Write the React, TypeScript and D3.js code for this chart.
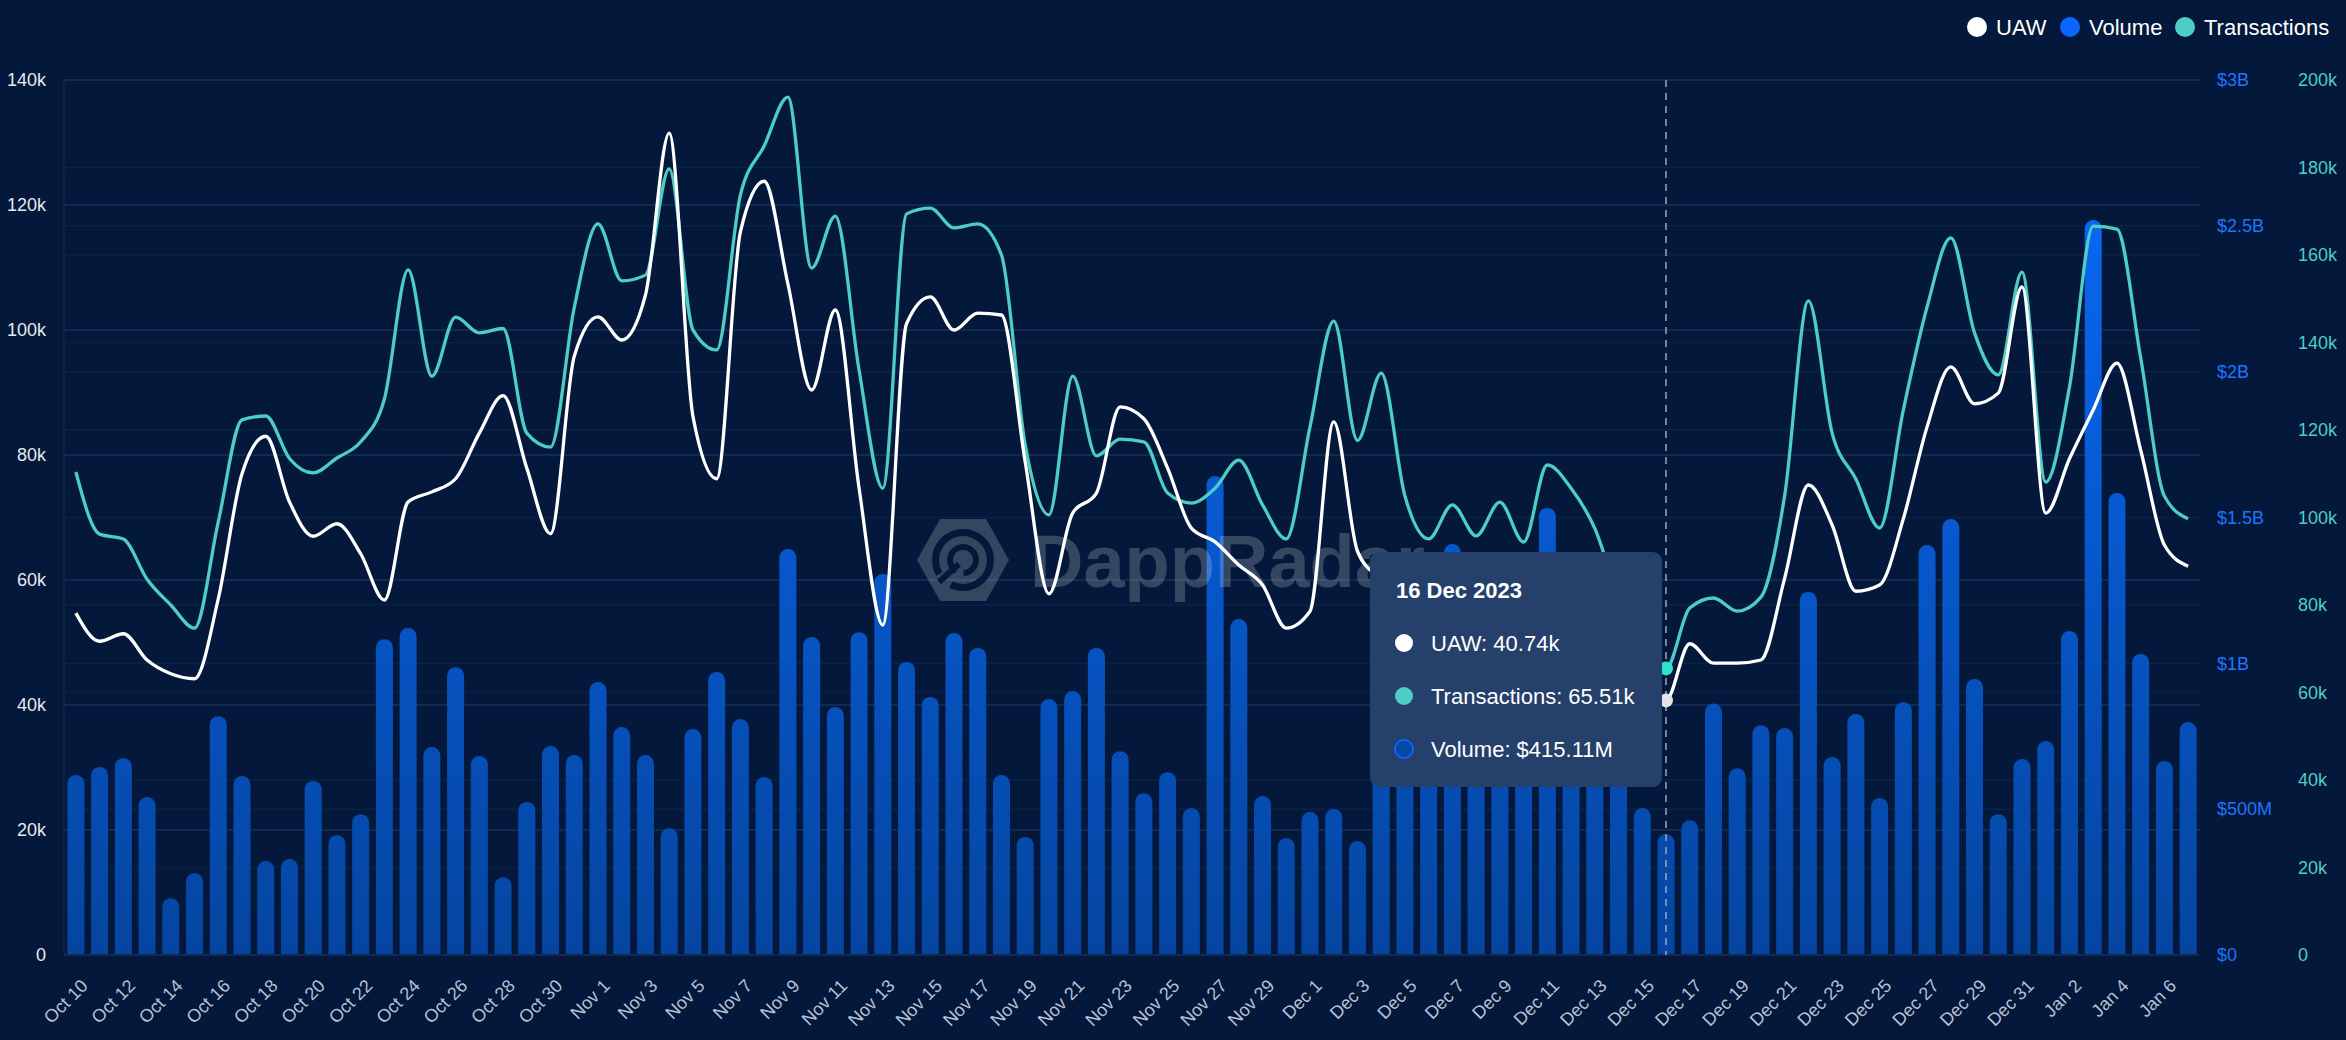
import React from "react";
import * as d3 from "d3";

// categories: one bar per day, Oct 10 2023 .. Jan 7 2024
const days = d3.timeDay.range(new Date(2023, 9, 10), new Date(2024, 0, 8));
const dayLabel = d3.timeFormat("%b %-d");
const tooltipDate = d3.timeFormat("%-d %b %Y");

// unique active wallets, thousands
const uaw = [
  54.7, 50.2, 51.4, 47.2, 45.0, 44.2, 57.0, 77.0, 83.0, 72.5, 67.0, 69.0, 64.2, 56.8, 72.5, 74.1, 76.2, 83.5, 89.5,
  77.9, 67.4, 95.8, 102.1, 98.4, 105.6, 131.5, 86.2, 76.2, 115.7, 123.8, 107.4, 90.4, 103.2, 74.7, 52.8, 101.0, 105.3,
  100.0, 102.7, 102.4, 78.9, 57.8, 70.7, 73.9, 87.7, 85.8, 77.9, 68.3, 66.1, 62.4, 59.2, 52.3, 55.0, 85.3, 64.6,
  60, 56, 52, 55, 52, 54, 51, 58, 56, 52, 47, 43, 40.74,
  49.8, 46.7, 46.7, 47.2, 60.3, 75.2, 68.8, 58.2, 59.2, 69.8, 84.5, 94.1, 88.2, 89.9, 106.9, 70.7, 79.4, 87.2, 94.7,
  80.8, 65.6, 62.2,
];

// transactions, thousands
const transactions = [
  110.4, 96.2, 95.1, 85.9, 80.0, 74.7, 99.0, 122.3, 123.2, 113.5, 110.2, 113.6, 117.3, 127.1, 156.6, 132.3, 145.8,
  142.2, 143.2, 119.3, 116.1, 148.0, 167.1, 154.1, 155.4, 179.7, 142.9, 138.3, 173.7, 184.9, 196.1, 157.0, 168.9,
  133.7, 106.7, 169.4, 170.7, 166.2, 167.1, 160.0, 116.6, 100.6, 132.3, 114.1, 117.9, 117.3, 105.6, 103.3, 106.7,
  113.1, 102.9, 95.1, 120.7, 144.9, 117.6, 133.0, 104.9, 95.1, 102.9, 95.8, 103.5, 94.4, 112.0, 106.7, 97.5, 82, 72,
  65.51, 79.3, 81.6, 78.6, 81.8, 105, 149.5, 119.3, 108.8, 97.6, 124.6, 148.1, 163.9, 142.2, 132.6, 156.1, 108.1,
  129.8, 166.6, 165.9, 136.5, 104.9, 99.7,
];

// volume, millions of USD
const volume = [
  617, 645, 675, 542, 195, 281, 819, 614, 322, 329, 597, 411, 483, 1083, 1121, 713, 987, 682, 267, 525, 717, 686,
  936, 782, 686, 435, 775, 970, 809, 610, 1392, 1090, 850, 1107, 1306, 1005, 885, 1104, 1053, 617, 405, 878, 905,
  1053, 699, 555, 627, 504, 1642, 1152, 545, 401, 490, 501, 391, 1000, 1150, 900, 1409, 1050, 1200, 950, 1533, 1100,
  1000, 750, 504, 415.11, 462, 862, 640, 788, 778, 1245, 679, 826, 538, 867, 1406, 1495, 946, 483, 672, 734, 1111,
  2520, 1584, 1032, 665, 799,
];

const uawTicks = [0, 20, 40, 60, 80, 100, 120, 140];
const uawTickLabels = ["0", "20k", "40k", "60k", "80k", "100k", "120k", "140k"];
const volumeTicks = [0, 500, 1000, 1500, 2000, 2500, 3000];
const volumeTickLabels = ["$0", "$500M", "$1B", "$1.5B", "$2B", "$2.5B", "$3B"];
const txTicks = [0, 20, 40, 60, 80, 100, 120, 140, 160, 180, 200];
const txTickLabels = ["0", "20k", "40k", "60k", "80k", "100k", "120k", "140k", "160k", "180k", "200k"];

const legend = [
  { name: "UAW", color: "#ffffff" },
  { name: "Volume", color: "#0a66ff" },
  { name: "Transactions", color: "#4ecdc4" },
];

const HOVER = 67;

const W = 2346;
const H = 1040;
const left = 64;
const right = 2200;
const top = 80;
const bottom = 955;
const FONT = "'Liberation Sans', Arial, Helvetica, sans-serif";
const BG = "#03183a";
const TEAL = "#4ecdc4";

const barPath = (x0: number, w: number, yTop: number, yBottom: number) => {
  const r = Math.min(w / 2, yBottom - yTop);
  return `M${x0},${yBottom}V${yTop + r}A${r},${r} 0 0 1 ${x0 + w},${yTop + r}V${yBottom}Z`;
};

export default function App() {
  const x = d3.scaleBand<number>().domain(d3.range(days.length)).range([left, right]).padding(0);
  const step = x.step();
  const cx = (i: number) => (x(i) as number) + step / 2;
  const barW = 17;

  const yUaw = d3.scaleLinear().domain([0, 140]).range([bottom, top]);
  const yVol = d3.scaleLinear().domain([0, 3000]).range([bottom, top]);
  const yTx = d3.scaleLinear().domain([0, 200]).range([bottom, top]);

  const uawLine = d3
    .line<number>()
    .x((_, i) => cx(i))
    .y((d) => yUaw(d))
    .curve(d3.curveMonotoneX);
  const txLine = d3
    .line<number>()
    .x((_, i) => cx(i))
    .y((d) => yTx(d))
    .curve(d3.curveMonotoneX);

  // watermark logo pieces
  const ring = d3.arc<any>();
  const hx = 963;
  const hy = 560;
  const hex = [
    [hx - 46, hy],
    [hx - 23, hy - 41],
    [hx + 23, hy - 41],
    [hx + 46, hy],
    [hx + 23, hy + 41],
    [hx - 23, hy + 41],
  ];

  const hoverX = cx(HOVER);
  const tipRows = [
    { text: `UAW: ${d3.format(".2f")(uaw[HOVER])}k`, fill: "#ffffff", stroke: "none" },
    { text: `Transactions: ${d3.format(".2f")(transactions[HOVER])}k`, fill: TEAL, stroke: "none" },
    { text: `Volume: $${d3.format(".2f")(volume[HOVER])}M`, fill: "#0747a6", stroke: "#0a66ff" },
  ];

  return (
    <svg
      width={W}
      height={H}
      style={{ position: "absolute", left: 0, top: 0, fontFamily: FONT }}
    >
      <defs>
        <linearGradient id="barGrad" gradientUnits="userSpaceOnUse" x1={0} y1={top} x2={0} y2={bottom}>
          <stop offset="0%" stopColor="#0a6dff" />
          <stop offset="100%" stopColor="#0545a0" />
        </linearGradient>
      </defs>
      <rect x={0} y={0} width={W} height={H} fill={BG} />

      {/* faint grid of the two right axes */}
      {volumeTicks.map((t) => (
        <line key={"gv" + t} x1={left} x2={right} y1={yVol(t)} y2={yVol(t)} stroke="#0b2246" strokeWidth={1.5} />
      ))}
      {txTicks.map((t) => (
        <line key={"gt" + t} x1={left} x2={right} y1={yTx(t)} y2={yTx(t)} stroke="#0b2246" strokeWidth={1.5} />
      ))}
      {uawTicks.map((t) => (
        <line key={"gu" + t} x1={left} x2={right} y1={yUaw(t)} y2={yUaw(t)} stroke="#17305a" strokeWidth={1.5} />
      ))}
      <line x1={left} x2={left} y1={top} y2={bottom} stroke="#0d2449" strokeWidth={1.5} />

      {/* volume bars */}
      {volume.map((v, i) => (
        <path key={"b" + i} d={barPath(cx(i) - barW / 2, barW, yVol(v), bottom)} fill="url(#barGrad)" />
      ))}
      <line x1={left} x2={right} y1={bottom} y2={bottom} stroke="#13294e" strokeWidth={2} />

      {/* watermark */}
      <g opacity={1}>
        <polygon points={hex.map((p) => p.join(",")).join(" ")} fill="#ffffff" fillOpacity={0.2} />
        <path
          transform={`translate(${hx},${hy})`}
          d={ring({ innerRadius: 24, outerRadius: 31, startAngle: -2.1, endAngle: 3.6 }) || ""}
          fill={BG}
        />
        <path
          transform={`translate(${hx},${hy})`}
          d={ring({ innerRadius: 10, outerRadius: 16, startAngle: -2.6, endAngle: 3.1 }) || ""}
          fill={BG}
        />
        <line x1={hx - 4} y1={hy + 4} x2={hx - 24} y2={hy + 22} stroke={BG} strokeWidth={6} />
        <text x={1030} y={587} fontSize={74} fontWeight="bold" fill="#ffffff" fillOpacity={0.2}>
          DappRadar
        </text>
      </g>

      {/* lines */}
      <path d={txLine(transactions) || ""} fill="none" stroke={TEAL} strokeWidth={3.3} />
      <path d={uawLine(uaw) || ""} fill="none" stroke="#ffffff" strokeWidth={3.3} />

      {/* hover crosshair and markers */}
      <line x1={hoverX} x2={hoverX} y1={top} y2={bottom} stroke="#9aa6ba" strokeWidth={1.5} strokeDasharray="7 6" />
      <circle cx={hoverX} cy={yTx(transactions[HOVER])} r={7} fill="#2ee3cc" />
      <circle cx={hoverX} cy={yUaw(uaw[HOVER])} r={7} fill="#e4e4e4" />

      {/* tooltip */}
      <rect x={1370} y={552} width={292} height={235} rx={9} fill="#26406c" />
      <text x={1396} y={598} fontSize={22} fontWeight="bold" fill="#ffffff">
        {tooltipDate(days[HOVER])}
      </text>
      {tipRows.map((r, k) => (
        <g key={"tr" + k} transform={`translate(0,${643 + k * 53})`}>
          <circle cx={1404} cy={0} r={9} fill={r.fill} stroke={r.stroke} strokeWidth={2} />
          <text x={1431} y={8} fontSize={22} fill="#ffffff">
            {r.text}
          </text>
        </g>
      ))}

      {/* left axis labels */}
      {uawTicks.map((t, k) => (
        <text key={"lu" + t} x={46} y={yUaw(t)} dy="0.35em" textAnchor="end" fontSize={18} fill="#e6e9ef">
          {uawTickLabels[k]}
        </text>
      ))}
      {/* right axes labels */}
      {volumeTicks.map((t, k) => (
        <text key={"lv" + t} x={2217} y={yVol(t)} dy="0.35em" fontSize={18} fill="#1f74ff">
          {volumeTickLabels[k]}
        </text>
      ))}
      {txTicks.map((t, k) => (
        <text key={"lt" + t} x={2298} y={yTx(t)} dy="0.35em" fontSize={18} fill={TEAL}>
          {txTickLabels[k]}
        </text>
      ))}

      {/* x axis labels */}
      {days.map((d, i) =>
        i % 2 === 0 ? (
          <text
            key={"x" + i}
            transform={`translate(${cx(i) + 13},${987}) rotate(-45)`}
            textAnchor="end"
            fontSize={18}
            fill="#b8c1d3"
          >
            {dayLabel(d)}
          </text>
        ) : null
      )}

      {/* legend */}
      {legend.map((l, k) => {
        const pos = [1977, 2070, 2185][k];
        return (
          <g key={"lg" + l.name}>
            <circle cx={pos} cy={27} r={10} fill={l.color} />
            <text x={pos + 19} y={35} fontSize={22} fill="#ffffff">
              {l.name}
            </text>
          </g>
        );
      })}
    </svg>
  );
}
